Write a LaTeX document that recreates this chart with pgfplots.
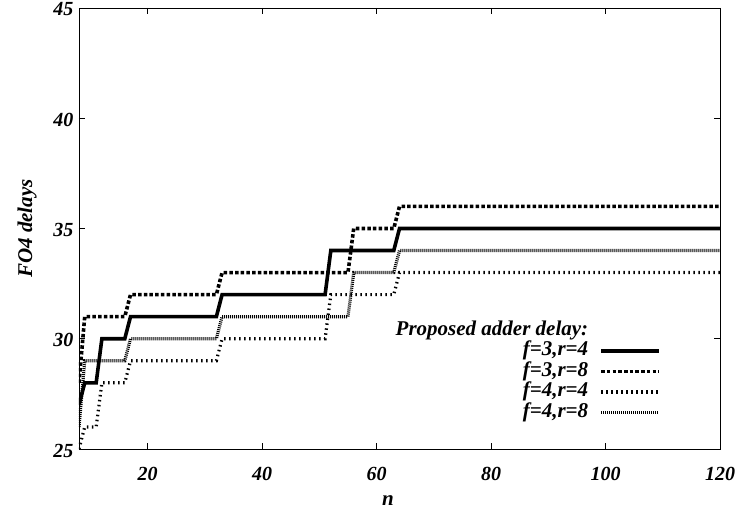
\documentclass[border=0pt]{standalone}
\usepackage{pgfplots}
\pgfplotsset{compat=1.18}
\usepackage{fontspec}
\setmainfont{Liberation Serif}
\newcommand{\lf}{\fontsize{21}{21}\selectfont\bfseries\itshape}
\newcommand{\tf}{\fontsize{20}{20}\selectfont\bfseries\itshape}
\begin{document}
\begin{tikzpicture}
\path[use as bounding box] (-79pt,-64pt) rectangle (657pt,449pt);
\begin{axis}[
  at={(0pt,0pt)}, anchor=south west,
  scale only axis, width=641pt, height=441pt,
  xmin=8, xmax=120, ymin=25, ymax=45,
  xtick={20,40,60,80,100,120},
  ytick={25,30,35,40,45},
  axis line style={black, line width=0.8pt},
  tick style={black, line width=0.8pt},
  major tick length=6pt,
  /pgf/number format/assume math mode=true,
  tick label style={font=\tf},
  xticklabel style={yshift=-15pt},
  yticklabel style={xshift=-2pt, yshift=-1.5pt},
  xlabel={n}, ylabel={FO4 delays},
  label style={font=\lf},
  xlabel style={at={(axis description cs:0.482,-0.117)}, anchor=center},
  ylabel style={at={(axis description cs:-0.081,0.5)}, anchor=center, rotate=0},
  legend plot pos=right,
  legend cell align=right,
  legend style={draw=none, fill=none, font=\lf,
    at={(axis description cs:0.913,0.297)}, anchor=north east,
    nodes={text height=14pt, text depth=4pt, inner sep=1.25pt},
    column sep=10pt},
  legend image code/.code={\draw[#1] (0pt,0pt) -- (58pt,0pt);},
]
\addlegendimage{empty legend}
\addlegendentry{Proposed adder delay:}
\addplot[black, line width=3.6pt, line join=miter] coordinates {
(8,27) (9,28) (11,28) (12,30) (16,30) (17,31) (32,31) (33,32) (51,32) (52,34) (63,34) (64,35) (120,35)};
\addlegendentry{f=3,r=4}
\addplot[black, line width=3.6pt, dash pattern=on 3.5pt off 2.2pt] coordinates {
(8,28) (9,31) (16,31) (17,32) (32,32) (33,33) (55,33) (56,35) (63,35) (64,36) (120,36)};
\addlegendentry{f=3,r=8}
\addplot[black, line width=3.2pt, dash pattern=on 1.5pt off 3.5pt] coordinates {
(8,25) (9,26) (11,26) (12,28) (16,28) (17,29) (32,29) (33,30) (51,30) (52,32) (63,32) (64,33) (120,33)};
\addlegendentry{f=4,r=4}
\addplot[black, line width=3.2pt, dash pattern=on 1pt off 1pt] coordinates {
(8,26) (9,29) (16,29) (17,30) (32,30) (33,31) (55,31) (56,33) (63,33) (64,34) (120,34)};
\addlegendentry{f=4,r=8}
\end{axis}
\end{tikzpicture}
\end{document}
